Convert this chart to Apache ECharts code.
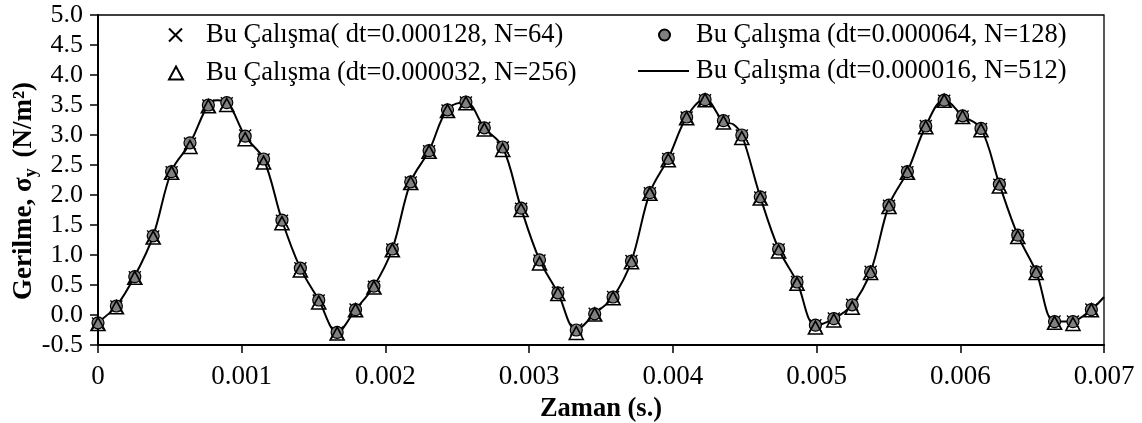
<!DOCTYPE html>
<html>
<head>
<meta charset="utf-8">
<script src="https://cdn.jsdelivr.net/npm/echarts@6/dist/echarts.min.js"></script>
<style>
html,body{margin:0;padding:0;background:#fff;}
#chart{width:1142px;height:423px;}
</style>
</head>
<body>
<div id="chart"></div>
<script>
// sample times (s)
var times = [0, 0.000128, 0.000256, 0.000384, 0.000512, 0.00064, 0.000768, 0.000896, 0.001024, 0.001152,
  0.00128, 0.001408, 0.001536, 0.001664, 0.001792, 0.00192, 0.002048, 0.002176, 0.002304, 0.002432,
  0.00256, 0.002688, 0.002816, 0.002944, 0.003072, 0.0032, 0.003328, 0.003456, 0.003584, 0.003712,
  0.00384, 0.003968, 0.004096, 0.004224, 0.004352, 0.00448, 0.004608, 0.004736, 0.004864, 0.004992,
  0.00512, 0.005248, 0.005376, 0.005504, 0.005632, 0.00576, 0.005888, 0.006016, 0.006144, 0.006272,
  0.0064, 0.006528, 0.006656, 0.006784, 0.006912];

// dt=0.000128, N=64 (cross markers)
var stressN64 = [-0.14, 0.14, 0.63, 1.31, 2.38, 2.86, 3.49, 3.53, 2.99, 2.59,
  1.57, 0.78, 0.24, -0.29, 0.09, 0.47, 1.09, 2.21, 2.73, 3.41,
  3.54, 3.12, 2.79, 1.77, 0.91, 0.37, -0.24, 0.02, 0.30, 0.90,
  2.03, 2.60, 3.29, 3.58, 3.23, 2.99, 1.96, 1.09, 0.55, -0.17,
  -0.06, 0.17, 0.72, 1.82, 2.38, 3.15, 3.57, 3.31, 3.10, 2.17,
  1.32, 0.72, -0.11, -0.11, 0.09];

// dt=0.000064, N=128 (grey circles)
var stressN128 = [-0.13, 0.15, 0.64, 1.32, 2.39, 2.87, 3.50, 3.54, 2.98, 2.60,
  1.58, 0.78, 0.25, -0.29, 0.09, 0.48, 1.10, 2.22, 2.74, 3.42,
  3.55, 3.12, 2.80, 1.78, 0.92, 0.37, -0.25, 0.02, 0.30, 0.90,
  2.04, 2.61, 3.30, 3.59, 3.24, 3.00, 1.97, 1.10, 0.55, -0.17,
  -0.06, 0.17, 0.72, 1.83, 2.39, 3.15, 3.58, 3.32, 3.11, 2.18,
  1.33, 0.72, -0.11, -0.11, 0.09];

// dt=0.000032, N=256 (open triangles)
var stressN256 = [-0.15, 0.13, 0.62, 1.29, 2.37, 2.80, 3.48, 3.50, 2.93, 2.54,
  1.53, 0.74, 0.21, -0.31, 0.08, 0.46, 1.08, 2.20, 2.72, 3.40,
  3.53, 3.09, 2.75, 1.75, 0.86, 0.35, -0.30, 0.01, 0.28, 0.88,
  2.02, 2.58, 3.28, 3.58, 3.21, 2.95, 1.94, 1.06, 0.52, -0.21,
  -0.09, 0.12, 0.70, 1.80, 2.37, 3.13, 3.57, 3.30, 3.08, 2.14,
  1.30, 0.70, -0.13, -0.15, 0.08];

// dt=0.000016, N=512 (solid line)
var timesN512 = [0, 0.000128, 0.000256, 0.000384, 0.000512, 0.00064, 0.000768, 0.00083, 0.000896, 0.001024, 0.001152,
  0.00128, 0.001408, 0.001536, 0.001664, 0.001792, 0.00192, 0.002048, 0.002176, 0.002304, 0.002432,
  0.00256, 0.002688, 0.002816, 0.002944, 0.003072, 0.0032, 0.003328, 0.003456, 0.003584, 0.003712,
  0.00384, 0.003968, 0.004096, 0.004224, 0.004352, 0.00442, 0.00448, 0.004608, 0.004736, 0.004864, 0.004992,
  0.00512, 0.005248, 0.005376, 0.005504, 0.005632, 0.00576, 0.005888, 0.006016, 0.006144, 0.006272,
  0.0064, 0.006528, 0.006656, 0.006784, 0.006912, 0.007];
var stressN512 = [-0.12, 0.15, 0.65, 1.32, 2.40, 2.86, 3.51, 3.58, 3.55, 2.98, 2.60,
  1.58, 0.78, 0.25, -0.29, 0.09, 0.48, 1.10, 2.22, 2.74, 3.43,
  3.55, 3.12, 2.80, 1.78, 0.92, 0.37, -0.25, 0.02, 0.30, 0.90,
  2.04, 2.61, 3.30, 3.60, 3.22, 3.18, 3.00, 1.97, 1.10, 0.55, -0.17,
  -0.06, 0.17, 0.72, 1.83, 2.39, 3.15, 3.59, 3.32, 3.11, 2.18,
  1.33, 0.72, -0.11, -0.10, 0.09, 0.30];

var xTicks = {min: 0, max: 0.007, interval: 0.001};
var yTicks = {min: -0.5, max: 5.0, interval: 0.5};

var names = [
  'Bu Çalışma( dt=0.000128, N=64)',
  'Bu Çalışma (dt=0.000064, N=128)',
  'Bu Çalışma (dt=0.000032, N=256)',
  'Bu Çalışma (dt=0.000016, N=512)'
];

function zip(xs, ys) { return xs.map(function (x, i) { return [x, ys[i]]; }); }

var FONT = '"Liberation Serif", "Times New Roman", serif';
var crossPath = 'path://M0,0 L10,10 M10,0 L0,10';

function legendBox(name, left, top, icon, w, h, padLeft) {
  return {
    data: [name], left: left, top: top, orient: 'horizontal',
    icon: icon, itemWidth: w, itemHeight: h, padding: 0, selectedMode: false,
    textStyle: {fontFamily: FONT, fontSize: 26.5, color: '#000', lineHeight: 28, padding: [0, 0, 0, padLeft]}
  };
}

var chart = echarts.init(document.getElementById('chart'), null, {renderer: 'canvas'});
chart.setOption({
  animation: false,
  backgroundColor: '#fff',
  grid: {left: 98, right: 38, top: 15, bottom: 78, show: true, borderColor: '#000', borderWidth: 1.3,
    containLabel: false, outerBoundsMode: 'none'},
  legend: [
    legendBox(names[0], 168, 21, crossPath, 13, 13, 19),
    legendBox(names[2], 168, 59, 'triangle', 14, 13, 18),
    legendBox(names[1], 658, 21, 'circle', 11, 11, 21),
    legendBox(names[3], 638, 57, 'rect', 51, 2, 2)
  ],
  xAxis: {
    type: 'value', min: xTicks.min, max: xTicks.max, interval: xTicks.interval,
    name: 'Zaman (s.)', nameLocation: 'middle', nameGap: 51, nameMoveOverlap: false,
    nameTextStyle: {fontFamily: FONT, fontSize: 26.5, fontWeight: 'bold', color: '#000'},
    axisLine: {onZero: false, lineStyle: {color: '#000', width: 2}},
    axisTick: {show: true, inside: false, length: 8, lineStyle: {color: '#000', width: 1.5}},
    axisLabel: {fontFamily: FONT, fontSize: 27, color: '#000', margin: 18,
      formatter: function (v) { return v === 0 ? '0' : v.toFixed(3); }},
    splitLine: {show: false}
  },
  yAxis: {
    type: 'value', min: yTicks.min, max: yTicks.max, interval: yTicks.interval,
    name: '{b|Gerilme, σ}{s|y}{b| (N/m²)}', nameLocation: 'middle', nameGap: 58, nameRotate: 90,
    nameMoveOverlap: false,
    nameTextStyle: {
      color: '#000',
      padding: [0, 22, 0, 0],
      rich: {
        b: {fontFamily: FONT, fontSize: 27, fontWeight: 'bold', color: '#000', lineHeight: 32, verticalAlign: 'middle'},
        s: {fontFamily: FONT, fontSize: 18, fontWeight: 'bold', color: '#000', lineHeight: 32, verticalAlign: 'bottom', padding: [0, 4, 0, 0]}
      }
    },
    axisLine: {show: true, onZero: false, lineStyle: {color: '#000', width: 2}},
    axisTick: {show: true, inside: false, length: 8, lineStyle: {color: '#000', width: 1.5}},
    axisLabel: {fontFamily: FONT, fontSize: 26, color: '#000', margin: 15,
      formatter: function (v) { return v.toFixed(1); }},
    splitLine: {show: false}
  },
  series: [
    {
      name: names[3], type: 'line', data: zip(timesN512, stressN512),
      smooth: 0.35, showSymbol: false, symbol: 'none',
      lineStyle: {color: '#000', width: 2}, itemStyle: {color: '#000'}, z: 2
    },
    {
      name: names[0], type: 'scatter', data: zip(times, stressN64),
      symbol: crossPath, symbolSize: 12,
      itemStyle: {color: 'rgba(0,0,0,0)', borderColor: '#000', borderWidth: 1.4, opacity: 1}, z: 3
    },
    {
      name: names[1], type: 'scatter', data: zip(times, stressN128),
      symbol: 'circle', symbolSize: 12,
      itemStyle: {color: '#808080', borderColor: '#000', borderWidth: 1.2, opacity: 1}, z: 4
    },
    {
      name: names[2], type: 'scatter', data: zip(times, stressN256),
      symbol: 'triangle', symbolSize: [14, 13],
      itemStyle: {color: 'rgba(255,255,255,0)', borderColor: '#000', borderWidth: 1.6, opacity: 1}, z: 5
    }
  ]
});
</script>
</body>
</html>
